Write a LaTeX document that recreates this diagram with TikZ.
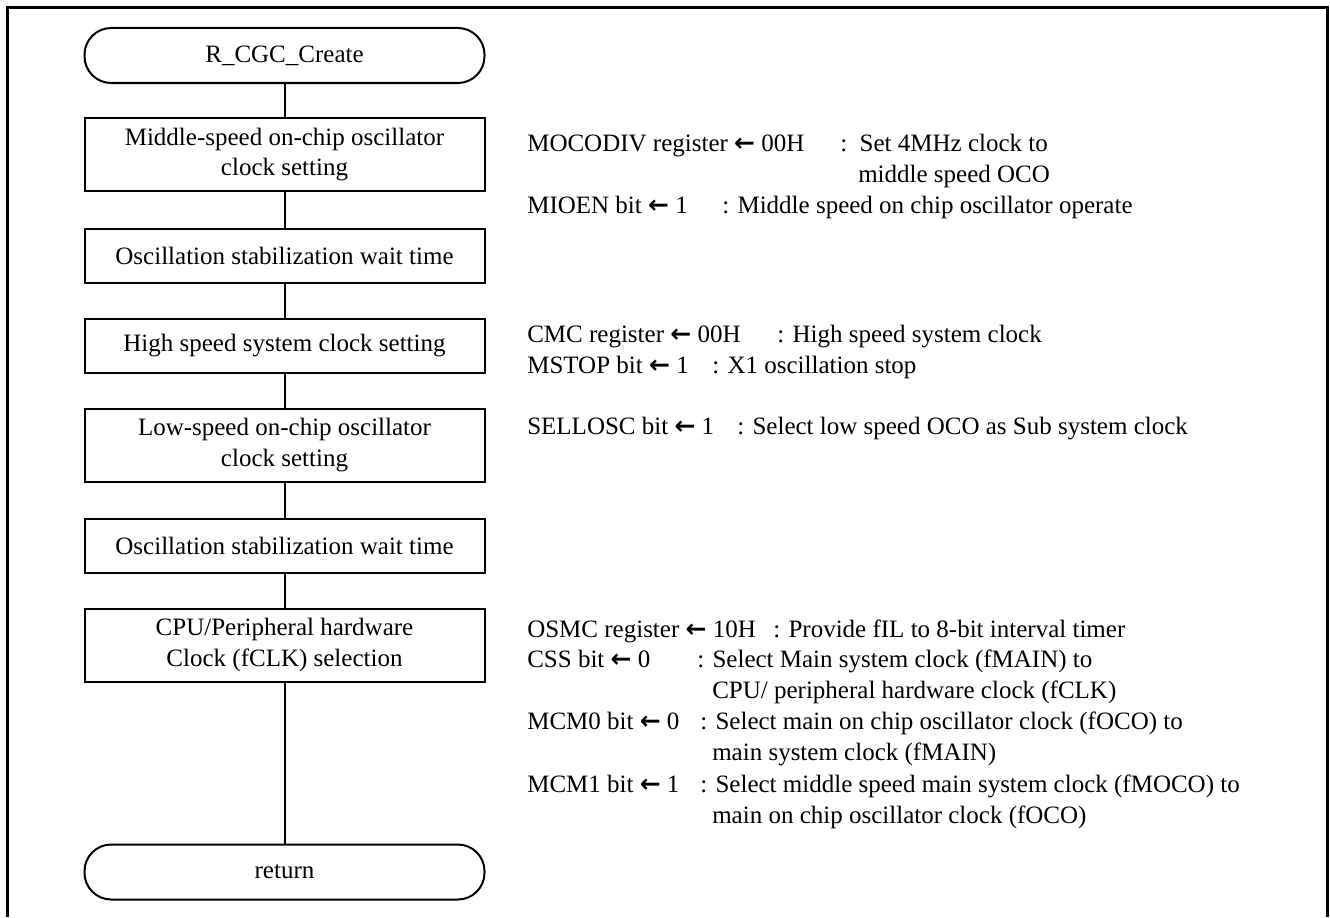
\documentclass[tikz,border=0pt]{standalone}
\usepackage{fontspec}
\setmainfont{Liberation Serif}
\newfontfamily\arrowfont{DejaVu Sans}
\newcommand{\myarr}{{\arrowfont\bfseries ←}}
\begin{document}
\begin{tikzpicture}[x=0.75pt,y=-0.75pt,
  every node/.style={font=\fontsize{18.75}{22.9}\selectfont, inner sep=0pt},
  proc/.style={draw, line width=1.5pt, minimum width=300pt, minimum height=40.5pt, align=center},
  proctwo/.style={proc, minimum height=54.75pt},
  term/.style={draw, line width=1.5pt, minimum width=300pt, minimum height=41.25pt, rounded corners=20pt},
  lab/.style={anchor=base west},
  conn/.style={line width=1.5pt}]
\useasboundingbox (0,0) rectangle (1330,917);
\draw[line width=2.25pt] (7,917) -- (7,8) -- (1327,8) -- (1327,917);

\node[term] (start) at (284.5,55.5) {R\_CGC\_Create};
\node[proctwo] (b1) at (284.5,154.5) {Middle-speed on-chip oscillator\\clock setting};
\node[proc] (b2) at (284.5,255.5) {Oscillation stabilization wait time};
\node[proc] (b3) at (284.5,345.5) {High speed system clock setting};
\node[proctwo] (b4) at (284.5,445) {Low-speed on-chip oscillator\\clock setting};
\node[proc] (b5) at (284.5,545.5) {Oscillation stabilization wait time};
\node[proctwo] (b6) at (284.5,645) {CPU/Peripheral hardware\\Clock (fCLK) selection};
\node[term] (ret) at (284.5,872) {return};

\draw[conn] (start) -- (b1);
\draw[conn] (b1) -- (b2);
\draw[conn] (b2) -- (b3);
\draw[conn] (b3) -- (b4);
\draw[conn] (b4) -- (b5);
\draw[conn] (b5) -- (b6);
\draw[conn] (b6) -- (ret);

\node[lab] (t1) at (527,151) {MOCODIV register \myarr{} 00H};
\node[lab] (t1b) at (840,151) {:\ \ Set 4MHz clock to};
\node[lab] (t1c) at (858,182) {middle speed OCO};
\node[lab] (t2) at (527,213) {MIOEN bit \myarr{} 1};
\node[lab] (t2b) at (722,213) {: Middle speed on chip oscillator operate};
\node[lab] (t3) at (527,342) {CMC register \myarr{} 00H};
\node[lab] (t3b) at (777,342) {: High speed system clock};
\node[lab] (t4) at (527,373) {MSTOP bit \myarr{} 1};
\node[lab] (t4b) at (712,373) {: X1 oscillation stop};
\node[lab] (t5) at (527,434) {SELLOSC bit \myarr{} 1};
\node[lab] (t5b) at (737,434) {: Select low speed OCO as Sub system clock};
\node[lab] (t6) at (527,637) {OSMC register \myarr{} 10H};
\node[lab] (t6b) at (773,637) {: Provide fIL to 8-bit interval timer};
\node[lab] (t7) at (527,667) {CSS bit \myarr{} 0};
\node[lab] (t7b) at (697,667) {: Select Main system clock (fMAIN) to};
\node[lab] (t7c) at (712,698) {CPU/ peripheral hardware clock (fCLK)};
\node[lab] (t8) at (527,729) {MCM0 bit \myarr{} 0};
\node[lab] (t8b) at (700,729) {: Select main on chip oscillator clock (fOCO) to};
\node[lab] (t8c) at (712,760) {main system clock (fMAIN)};
\node[lab] (t9) at (527,792) {MCM1 bit \myarr{} 1};
\node[lab] (t9b) at (700,792) {: Select middle speed main system clock (fMOCO) to};
\node[lab] (t9c) at (712,823) {main on chip oscillator clock (fOCO)};
\end{tikzpicture}
\end{document}
